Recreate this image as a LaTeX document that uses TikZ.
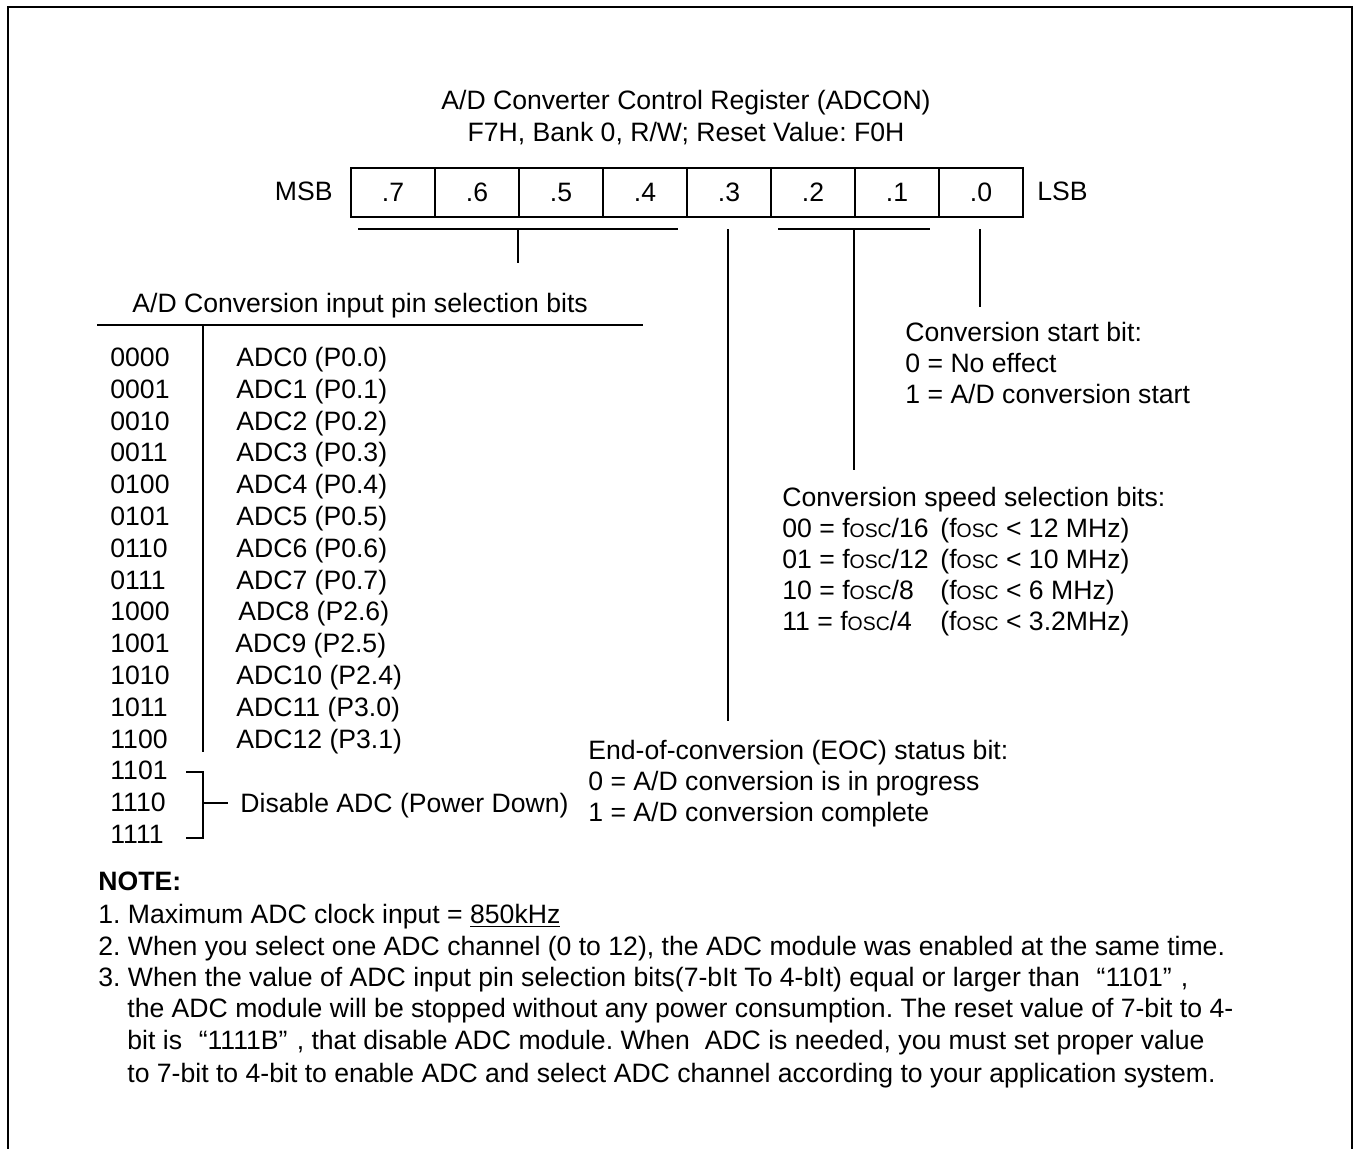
\documentclass[tikz,border=0pt]{standalone}
\usepackage{fontspec}
\setmainfont{Liberation Sans}
\newcommand\fosc{f{\fontsize{9.7}{10}\selectfont OSC}}
\begin{document}
\frenchspacing
\begin{tikzpicture}[x=0.5pt,y=-0.5pt,
  txt/.style={inner sep=0pt, anchor=base west, font=\fontsize{13.3}{16}\selectfont},
  ctr/.style={inner sep=0pt, anchor=base, font=\fontsize{13.3}{16}\selectfont},
  cell/.style={draw, line width=1pt, minimum width=42pt, minimum height=24.5pt,
               inner sep=0pt, anchor=north west, font=\fontsize{13.3}{16}\selectfont},
  ln/.style={line width=1pt}]
\useasboundingbox (0,0) rectangle (1354,1148);
\draw[line width=1.2pt] (8,1152) -- (8,7) -- (1352,7) -- (1352,1152);

% title
\node[ctr] (t1) at (686,109.5) {A/D Converter Control Register (ADCON)};
\node[ctr] (t2) at (686,141.5) {F7H, Bank 0, R/W; Reset Value: F0H};

% register
\foreach \i/\l in {0/7,1/6,2/5,3/4,4/3,5/2,6/1,7/0}
  \node[cell] (b\l) at ({350+84*\i},167) {.\l};
\node[txt, anchor=base east] (msb) at (333,200.5) {MSB};
\node[txt] (lsb) at (1037,200.5) {LSB};

% bit group lines
\coordinate (g1L) at (358,229); \coordinate (g1R) at (678,229);
\coordinate (g1M) at (518,229); \coordinate (g1E) at (518,263);
\draw[ln] (g1L) -- (g1R);
\draw[ln] (g1M) -- (g1E);
\coordinate (g3T) at (728,229); \coordinate (g3E) at (728,721);
\draw[ln] (g3T) -- (g3E);
\coordinate (g2L) at (778,229); \coordinate (g2R) at (930,229);
\coordinate (g2M) at (854,229); \coordinate (g2E) at (854,470);
\draw[ln] (g2L) -- (g2R);
\draw[ln] (g2M) -- (g2E);
\coordinate (g0T) at (980,229); \coordinate (g0E) at (980,307);
\draw[ln] (g0T) -- (g0E);

% input pin selection
\node[txt] (sel) at (132,312.5) {A/D Conversion input pin selection bits};
\coordinate (uL) at (97,325); \coordinate (uR) at (643,325);
\draw[ln] (uL) -- (uR);
\coordinate (sT) at (203,325); \coordinate (sB) at (203,752);
\draw[ln] (sT) -- (sB);

\foreach \i/\c in {0/0000,1/0001,2/0010,3/0011,4/0100,5/0101,6/0110,7/0111,
                   8/1000,9/1001,10/1010,11/1011,12/1100,13/1101,14/1110,15/1111}
  \node[txt] (c\i) at (110,{366.5+31.8*\i}) {\c};
\foreach \i/\a/\x in {0/ADC0 (P0.0)/236,1/ADC1 (P0.1)/236,2/ADC2 (P0.2)/236,
                      3/ADC3 (P0.3)/236,4/ADC4 (P0.4)/236,5/ADC5 (P0.5)/236,
                      6/ADC6 (P0.6)/236,7/ADC7 (P0.7)/236,8/ADC8 (P2.6)/238,
                      9/ADC9 (P2.5)/235,10/ADC10 (P2.4)/236,11/ADC11 (P3.0)/236,
                      12/ADC12 (P3.1)/236}
  \node[txt] (a\i) at (\x,{366.5+31.8*\i}) {\a};

% disable bracket
\coordinate (k1) at (186,772); \coordinate (k2) at (203,772);
\coordinate (k3) at (203,838); \coordinate (k4) at (186,838);
\coordinate (kM) at (203,803); \coordinate (kE) at (228,803);
\draw[ln] (k1) -- (k2) -- (k3) -- (k4);
\draw[ln] (kM) -- (kE);
\node[txt] (dis) at (240,812.5) {Disable ADC (Power Down)};

% conversion start bit
\node[txt] (cs1) at (905,341.5) {Conversion start bit:};
\node[txt] (cs2) at (905,372.5) {0 = No effect};
\node[txt] (cs3) at (905,403.5) {1 = A/D conversion start};

% speed
\node[txt] (sp0) at (782,506.5) {Conversion speed selection bits:};
\node[txt] (sp1) at (782,537.5) {\makebox[79pt][l]{00 = \fosc/16}(\fosc{} < 12 MHz)};
\node[txt] (sp2) at (782,568.5) {\makebox[79pt][l]{01 = \fosc/12}(\fosc{} < 10 MHz)};
\node[txt] (sp3) at (782,599.5) {\makebox[79pt][l]{10 = \fosc/8}(\fosc{} < 6 MHz)};
\node[txt] (sp4) at (782,630.5) {\makebox[79pt][l]{11 = \fosc/4}(\fosc{} < 3.2MHz)};

% EOC
\node[txt] (eo1) at (588,759.5) {End-of-conversion (EOC) status bit:};
\node[txt] (eo2) at (588,790.5) {0 = A/D conversion is in progress};
\node[txt] (eo3) at (588,821.5) {1 = A/D conversion complete};

% notes
\node[txt, font=\fontsize{13.3}{16}\selectfont\bfseries] (note) at (98,890.5) {NOTE:};
\node[txt] (n1) at (98,923.5) {1. Maximum ADC clock input = \underline{850kHz}};
\node[txt] (n2) at (98,955.5) {2. When you select one ADC channel (0 to 12), the ADC module was enabled at the same time.};
\node[txt] (n3) at (98,986.5) {3. When the value of ADC input pin selection bits(7-bIt To 4-bIt) equal or larger than \hspace{0.35em}“1101”\hspace{0.35em},};
\node[txt] (n4) at (127,1017.5) {the ADC module will be stopped without any power consumption. The reset value of 7-bit to 4-};
\node[txt] (n5) at (127,1049.5) {bit is \hspace{0.35em}“1111B”\hspace{0.35em}, that disable ADC module. When\ \ ADC is needed, you must set proper value};
\node[txt] (n6) at (127,1082.5) {to 7-bit to 4-bit to enable ADC and select ADC channel according to your application system.};
\end{tikzpicture}
\end{document}
